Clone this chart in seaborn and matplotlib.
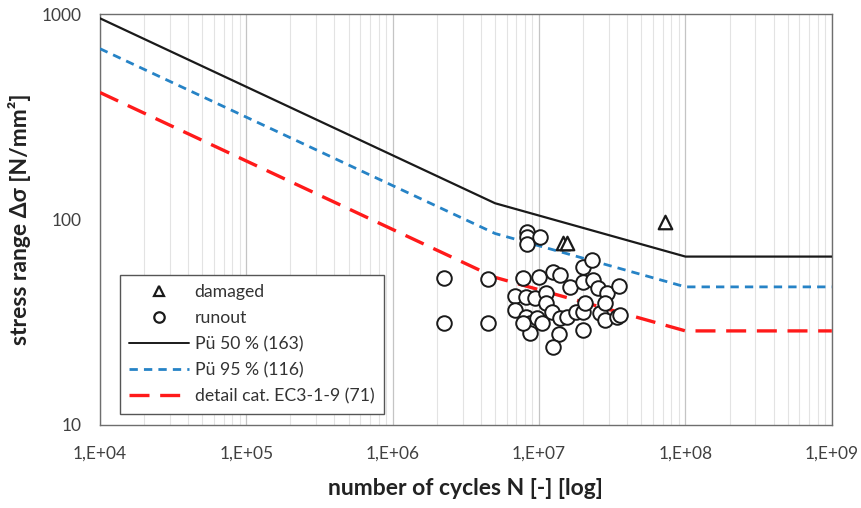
import matplotlib
matplotlib.use("Agg")
import matplotlib.pyplot as plt
import matplotlib.ticker as mticker
from matplotlib.lines import Line2D
import numpy as np
import pandas as pd
import seaborn as sns

# S-N curves (knee points)
curve_N = [1e4, 5e6, 1e8, 1e9]
pu50_S = [953, 120, 66, 66]
pu95_S = [678, 85.5, 47, 47]
ec3_S = [415, 52.3, 28.7, 28.7]

# damaged specimens
damaged_N = [1.46e7, 1.55e7, 7.23e7]
damaged_S = [76.9, 76.9, 97.3]

# runout specimens
runout_N = [8.22e6, 8.22e6, 8.22e6, 1.02e7, 2.24e6, 4.49e6, 2.24e6, 4.49e6,
            7.78e6, 1.0e7, 1.24e7, 1.39e7, 1.62e7, 1.98e7, 2.29e7, 2.0e7,
            2.34e7, 2.53e7, 2.89e7, 3.52e7, 6.84e6, 8.2e6, 9.35e6, 1.11e7,
            1.12e7, 6.84e6, 8.2e6, 8.65e6, 9.62e6, 1.04e7, 1.22e7, 1.39e7,
            1.54e7, 1.80e7, 2.0e7, 2.06e7, 2.60e7, 2.81e7, 2.81e7, 3.38e7,
            3.56e7, 8.65e6, 1.37e7, 1.98e7, 1.24e7, 7.78e6]
runout_S = [87.3, 82.5, 75.7, 82.5, 51.8, 51.3, 31.5, 31.5,
            51.8, 52.7, 55.7, 53.7, 46.8, 58.9, 63.5, 49.8,
            50.8, 46.2, 43.7, 47.4, 42.5, 42.1, 41.4, 44.1,
            39.4, 36.3, 33.6, 31.2, 33.0, 31.5, 35.6, 33.0,
            33.6, 35.6, 35.6, 39.1, 35.0, 39.1, 32.4, 33.6,
            34.3, 27.9, 27.7, 29.0, 24.0, 31.2]

x_ticks = [1e4, 1e5, 1e6, 1e7, 1e8, 1e9]
x_ticklabels = ["1,E+04", "1,E+05", "1,E+06", "1,E+07", "1,E+08", "1,E+09"]
y_ticks = [10, 100, 1000]
y_ticklabels = ["10", "100", "1000"]

sns.set_style("white")
plt.rcParams['font.family'] = ['Lato', 'DejaVu Sans']

fig = plt.figure(figsize=(8.62, 5.08), dpi=100)
ax = fig.add_axes([0.116, 0.1634, 0.849, 0.809])

blue = "#2683c6"
red = "#ff1a1a"

curves = pd.DataFrame({"N": curve_N, "p50": pu50_S, "p95": pu95_S, "ec3": ec3_S})
sns.lineplot(data=curves, x="N", y="p50", ax=ax, color="#1a1a1a", lw=1.6,
             estimator=None, sort=False, zorder=3)
sns.lineplot(data=curves, x="N", y="p95", ax=ax, color=blue, lw=2.0,
             estimator=None, sort=False, zorder=3, dashes=False)
sns.lineplot(data=curves, x="N", y="ec3", ax=ax, color=red, lw=2.4,
             estimator=None, sort=False, zorder=3, dashes=False)
lines = ax.get_lines()
lines[1].set_dashes([3.0, 2.2])
lines[2].set_dashes([6.0, 3.2])

sns.scatterplot(x=runout_N, y=runout_S, ax=ax, marker="o", s=110,
                facecolor="white", edgecolor="#1a1a1a", linewidth=1.4, zorder=4)
sns.scatterplot(x=damaged_N, y=damaged_S, ax=ax, marker="^", s=95,
                facecolor="white", edgecolor="#1a1a1a", linewidth=1.6, zorder=5)

ax.set_xscale("log")
ax.set_yscale("log")
ax.set_xlim(1e4, 1e9)
ax.set_ylim(10, 1000)

ax.set_xticks(x_ticks)
ax.set_xticklabels(x_ticklabels)
ax.set_yticks(y_ticks)
ax.set_yticklabels(y_ticklabels)
ax.xaxis.set_minor_locator(mticker.LogLocator(base=10, subs=np.arange(2, 10)))
ax.xaxis.set_minor_formatter(mticker.NullFormatter())
ax.yaxis.set_minor_formatter(mticker.NullFormatter())
ax.tick_params(axis="both", which="both", length=0, labelsize=12.5,
               colors="#404040")
ax.tick_params(axis="y", pad=13)
ax.tick_params(axis="x", pad=15)

ax.grid(True, axis="x", which="major", color="#c4c4c4", lw=0.9)
ax.grid(True, axis="x", which="minor", color="#e3e3e3", lw=0.8)
ax.grid(False, axis="y")
for s in ax.spines.values():
    s.set_color("#6e6e6e")
    s.set_linewidth(1.0)

ax.set_xlabel("number of cycles N [-] [log]", fontsize=16.5, fontweight="bold",
              color="#222222", labelpad=12)
ax.set_ylabel("stress range Δσ [N/mm²]", fontsize=16.5, fontweight="bold",
              color="#222222", labelpad=8)

handles = [
    Line2D([], [], ls="none", marker="^", ms=7.5, mfc="white", mec="#1a1a1a", mew=1.6),
    Line2D([], [], ls="none", marker="o", ms=7.5, mfc="white", mec="#1a1a1a", mew=1.6),
    Line2D([], [], color="#1a1a1a", lw=1.4),
    Line2D([], [], color=blue, lw=2.0, dashes=[3.0, 2.2]),
    Line2D([], [], color=red, lw=2.4, dashes=[6.0, 3.2]),
]
labels = ["damaged", "runout", "Pü 50 % (163)", "Pü 95 % (116)",
          "detail cat. EC3-1-9 (71)"]
leg = ax.legend(handles, labels, loc="lower left", bbox_to_anchor=(0.027, 0.027),
                borderaxespad=0, fontsize=12.7, frameon=True, fancybox=False,
                framealpha=1, edgecolor="#555555", borderpad=0.55,
                labelspacing=0.56, handlelength=3.4, handletextpad=0.3)
leg.get_frame().set_linewidth(1.0)
for t in leg.get_texts():
    t.set_color("#333333")

fig.savefig("out.png", dpi=100)
